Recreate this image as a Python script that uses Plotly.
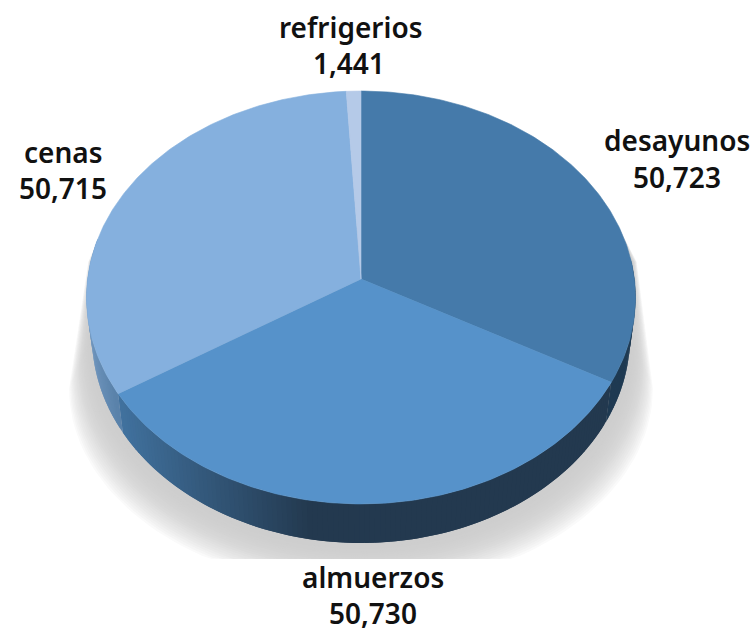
import numpy as np
import plotly.graph_objects as go

categories = ["desayunos", "almuerzos", "cenas", "refrigerios"]
values = [50723, 50730, 50715, 1441]
top_colors = ["#457aaa", "#5692ca", "#85b0de", "#b5cae8"]

W, H = 751, 631
CX, CY = 361.0, 279.0      # apex of the pie on the page
A, B, K = 204.8, 273.4, 0.0896  # projected disc
DEPTH, XSHRINK = 39.0, 0.98


def project(theta, depth=0.0, shrink=1.0):
    x, y = np.sin(theta), np.cos(theta)
    w = 1 + K * y
    return CX + shrink * B * x / w, CY + depth - A * y / w


def hex_rgb(c):
    return np.array([int(c[i:i + 2], 16) for i in (1, 3, 5)], float)


def mix(c1, c2, t):
    t = min(max(t, 0.0), 1.0)
    v = hex_rgb(c1) * (1 - t) + hex_rgb(c2) * t
    return "rgb(%d,%d,%d)" % tuple(v.round())


def poly(xs, ys, color, line=True, name=None):
    return go.Scatter(x=list(xs), y=list(ys), mode="lines", fill="toself",
                      fillcolor=color, hoverinfo="skip" if name is None else "text",
                      text=name,
                      line=dict(color=color, width=0.6 if line else 0),
                      showlegend=False)


fig = go.Figure()

# soft shadow, outer layers first
SHADOW_N = 24
for i in range(SHADOW_N):
    t = 1 - i / (SHADOW_N - 1)          # 1 = outermost
    rx = 268 + 25 * t
    cy = 336 + 55 * t
    ry = 207 - 8 * t
    phi = np.linspace(0, np.pi, 80)
    ex = CX + rx * np.cos(phi)
    ey = np.minimum(cy + ry * np.sin(phi), 559)
    xs = np.r_[ex, 93 - 5 * t, 104, 618, 631 + 6 * t]
    ys = np.r_[ey, 262, 226, 226, 262]
    fig.add_trace(poly(xs, ys, mix("#cecece", "#ffffff", t ** 2.4), line=False))

# side wall
bounds = np.r_[0, np.cumsum(values)] / np.sum(values) * 2 * np.pi


def wall_color(i, px):
    if i == 0:
        return "#1f3a52"
    if i == 1:
        return mix("#41729f", "#23394f", (px - 123) / 190)
    if i == 2:
        return mix("#7096be", "#5a82aa", (px - 92) / 28)
    return "#9db4d2"


for i in range(len(values)):
    a0, a1 = bounds[i], bounds[i + 1]
    lo, hi = max(a0, np.pi / 2 - 0.1), min(a1, 1.5 * np.pi + 0.2)
    if hi <= lo:
        continue
    n = max(2, int((hi - lo) / np.radians(1.0)))
    edges = np.linspace(lo, hi, n + 1)
    # each segment overlaps the next, so no seams show between them
    for s in range(n):
        end = edges[min(s + 2, n)]
        th = np.linspace(edges[s], end, 5)
        x1, y1 = project(th)
        x2, y2 = project(th[::-1], DEPTH, XSHRINK)
        col = wall_color(i, float(x2[-1]))
        fig.add_trace(poly(np.r_[x1, x2], np.r_[y1, y2], col, line=False))

# top face
for i, cat in enumerate(categories):
    th = np.linspace(bounds[i], bounds[i + 1], 160)
    x1, y1 = project(th)
    fig.add_trace(poly(np.r_[CX, x1, CX], np.r_[CY, y1, CY], top_colors[i],
                       name=f"{cat}: {values[i]:,}"))

# labels
name_pos = [(677, 140), (373, 577), (63, 152), (351, 27)]
value_pos = [(677, 177), (373, 613), (63, 188), (349, 63)]
FONT = dict(family="Noto Sans", size=28, color="#111111", weight=600)
for cat, v, np_, vp in zip(categories, values, name_pos, value_pos):
    fig.add_annotation(x=np_[0], y=np_[1], text=cat, showarrow=False, font=FONT)
    fig.add_annotation(x=vp[0], y=vp[1], text=f"{v:,}", showarrow=False, font=FONT)

fig.update_layout(
    width=W, height=H, margin=dict(l=0, r=0, t=0, b=0),
    paper_bgcolor="white", plot_bgcolor="white", showlegend=False,
    xaxis=dict(range=[0, W], visible=False, fixedrange=True),
    yaxis=dict(range=[H, 0], visible=False, fixedrange=True),
)
fig.write_html("out.html", config={"displayModeBar": False},
               post_script="document.body.style.margin='0';")
